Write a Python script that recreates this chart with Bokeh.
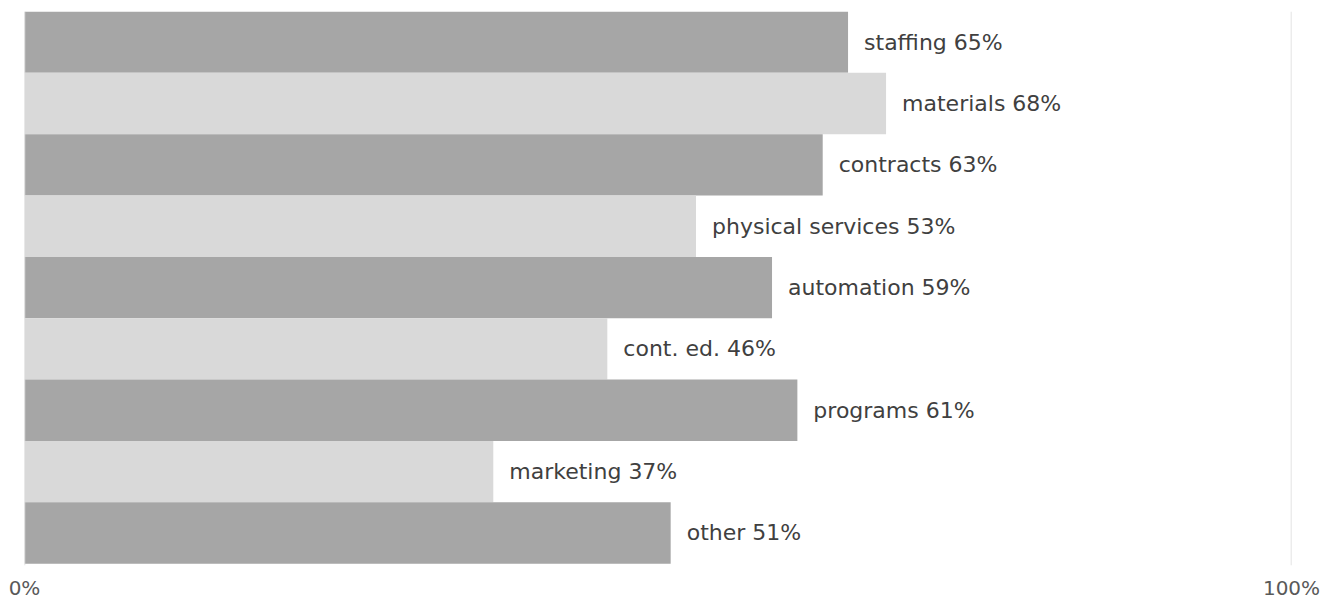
from bokeh.plotting import figure
from bokeh.models import ColumnDataSource, Span, FixedTicker, Range1d
from bokeh.core.properties import value
from bokeh.embed import file_html
from bokeh.resources import INLINE

categories = ["staffing", "materials", "contracts", "physical services", "automation",
              "cont. ed.", "programs", "marketing", "other"]
values = [65, 68, 63, 53, 59, 46, 61, 37, 51]
tick_values = [0, 100]
tick_labels = {0: "0%", 100: "100%"}

dark = "#a6a6a6"
light = "#d9d9d9"
n = len(categories)
ypos = [n - 1 - i for i in range(n)]
colors = [dark if i % 2 == 0 else light for i in range(n)]
labels = [f"{c} {v}%" for c, v in zip(categories, values)]

src = ColumnDataSource(dict(y=ypos, v=values, color=colors, label=labels))

p = figure(width=1321, height=602, output_backend="svg", toolbar_location=None,
           x_range=Range1d(0, 100), y_range=Range1d(-0.53, n - 0.5),
           min_border_left=24, min_border_right=30, min_border_top=11, min_border_bottom=34)
p.outline_line_color = None
p.background_fill_color = "white"
p.yaxis.visible = False
p.xgrid.grid_line_color = None
p.ygrid.grid_line_color = None

for t in tick_values:
    p.add_layout(Span(location=t, dimension="height", line_color=light, line_width=1.5))

p.hbar(y="y", left=0, right="v", height=1.0, color="color", line_color=None, source=src)

p.text(x="v", y="y", text="label", x_offset=16, text_baseline="middle", text_align="left",
       text_font=value("DejaVu Sans"), text_font_size="22px", text_color="#404040", source=src)

ax = p.xaxis[0]
ax.ticker = FixedTicker(ticks=tick_values)
ax.major_label_overrides = tick_labels
ax.axis_line_color = None
ax.major_tick_line_color = None
ax.minor_tick_line_color = None
ax.major_tick_out = 0
ax.major_tick_in = 0
ax.minor_tick_out = 0
ax.minor_tick_in = 0
ax.major_label_text_font = "DejaVu Sans"
ax.major_label_text_font_size = "20px"
ax.major_label_text_color = "#595959"
ax.major_label_standoff = 10

open("out.html", "w").write(file_html(p, INLINE))
